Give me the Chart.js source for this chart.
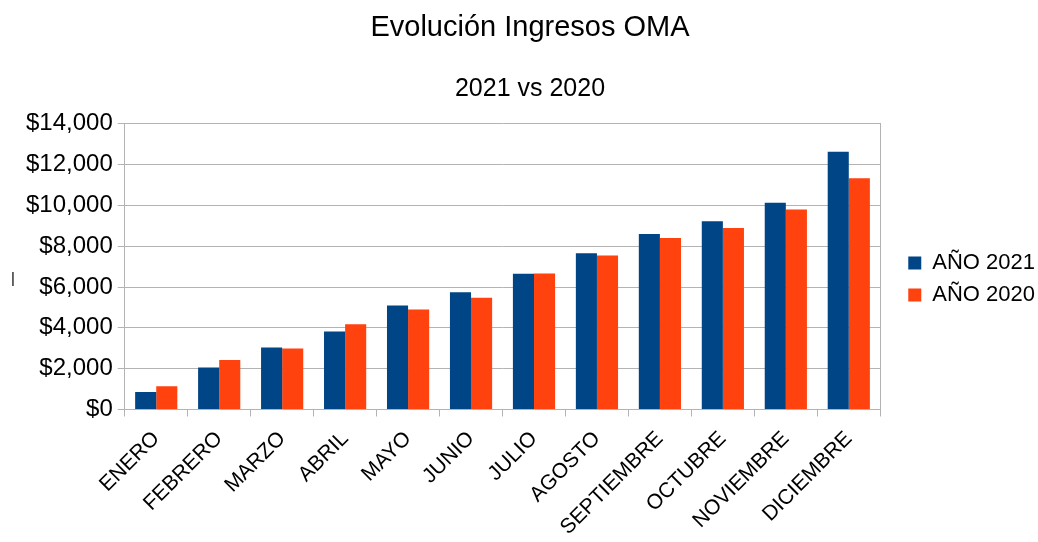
<!DOCTYPE html>
<html>
  <head>
    <title>Evolución Ingresos OMA</title>
    <meta charset="utf-8" />
    <style>
      html, body { margin: 0; padding: 0; background: #fff; }
    </style>
  </head>
  <body>
    <canvas id="myChart" width="1038" height="542"></canvas>
    <script src="https://cdn.jsdelivr.net/npm/chart.js@4.4.0/dist/chart.umd.min.js"></script>
    <script>
      const months = ["ENERO", "FEBRERO", "MARZO", "ABRIL", "MAYO", "JUNIO", "JULIO",
        "AGOSTO", "SEPTIEMBRE", "OCTUBRE", "NOVIEMBRE", "DICIEMBRE"];
      const ingresos2021 = [850, 2060, 3040, 3820, 5090, 5750, 6650, 7660, 8600, 9220, 10130, 12630];
      const ingresos2020 = [1140, 2420, 2990, 4180, 4900, 5480, 6660, 7550, 8400, 8890, 9800, 11330];
      const yTicks = [0, 2000, 4000, 6000, 8000, 10000, 12000, 14000];

      const gridColor = "#b3b3b3";
      const font = "'Liberation Sans', Arial, sans-serif";

      // the stray "|" that sits where the y axis title would be
      const axisMark = {
        id: "axisMark",
        afterDraw(chart) {
          const c = chart.ctx, a = chart.chartArea, y = chart.scales.y;
          c.save();
          c.fillStyle = "#000";
          c.font = "15px " + font;
          c.textAlign = "center";
          c.textBaseline = "middle";
          c.fillText("|", y.left - 2, (a.top + a.bottom) / 2 + 12);
          c.restore();
        }
      };

      const ctx = document.getElementById("myChart").getContext("2d");
      new Chart(ctx, {
        type: "bar",
        data: {
          labels: months,
          datasets: [
            { label: "AÑO 2021", data: ingresos2021, backgroundColor: "#004586" },
            { label: "AÑO 2020", data: ingresos2020, backgroundColor: "#ff420e" }
          ]
        },
        options: {
          responsive: false,
          animation: false,
          layout: { padding: { left: 15, right: -7, top: 0, bottom: -8 } },
          datasets: { bar: { categoryPercentage: 0.67, barPercentage: 1.0 } },
          plugins: {
            title: {
              display: true,
              text: "Evolución Ingresos OMA",
              color: "#000",
              font: { family: font, size: 29, weight: "normal" },
              padding: { top: 11, bottom: 28 }
            },
            subtitle: {
              display: true,
              text: "2021 vs 2020",
              color: "#000",
              font: { family: font, size: 25, weight: "normal" },
              padding: { top: 0, bottom: 20 }
            },
            legend: {
              position: "right",
              title: { display: true, text: " ", font: { size: 6 }, padding: { top: 0, bottom: 1 } },
              labels: {
                color: "#000",
                font: { family: font, size: 22 },
                boxWidth: 13,
                boxHeight: 13,
                padding: 10
              }
            },
            tooltip: { enabled: false }
          },
          scales: {
            x: {
              grid: {
                display: true,
                drawOnChartArea: false,
                drawTicks: true,
                tickLength: 7,
                color: gridColor,
                offset: true
              },
              border: { color: gridColor },
              ticks: {
                color: "#000",
                font: { family: font, size: 21 },
                minRotation: 45,
                maxRotation: 45,
                padding: 10
              }
            },
            y: {
              min: 0,
              max: 14000,
              afterBuildTicks(scale) {
                scale.ticks = yTicks.map(v => ({ value: v }));
              },
              grid: { color: gridColor, tickLength: 7 },
              border: { color: gridColor },
              title: {
                display: true,
                text: " ",
                font: { family: font, size: 20 },
                padding: { top: -21, bottom: 3 }
              },
              ticks: {
                color: "#000",
                font: { family: font, size: 24 },
                padding: 5,
                callback: v => "$" + v.toLocaleString("en-US")
              }
            },
            yRight: {
              position: "right",
              min: 0,
              max: 14000,
              grid: { drawOnChartArea: false, drawTicks: false },
              border: { color: gridColor },
              ticks: { display: false },
              afterFit(scale) { scale.width = 18; }
            }
          }
        },
        plugins: [axisMark]
      });
    </script>
  </body>
</html>
